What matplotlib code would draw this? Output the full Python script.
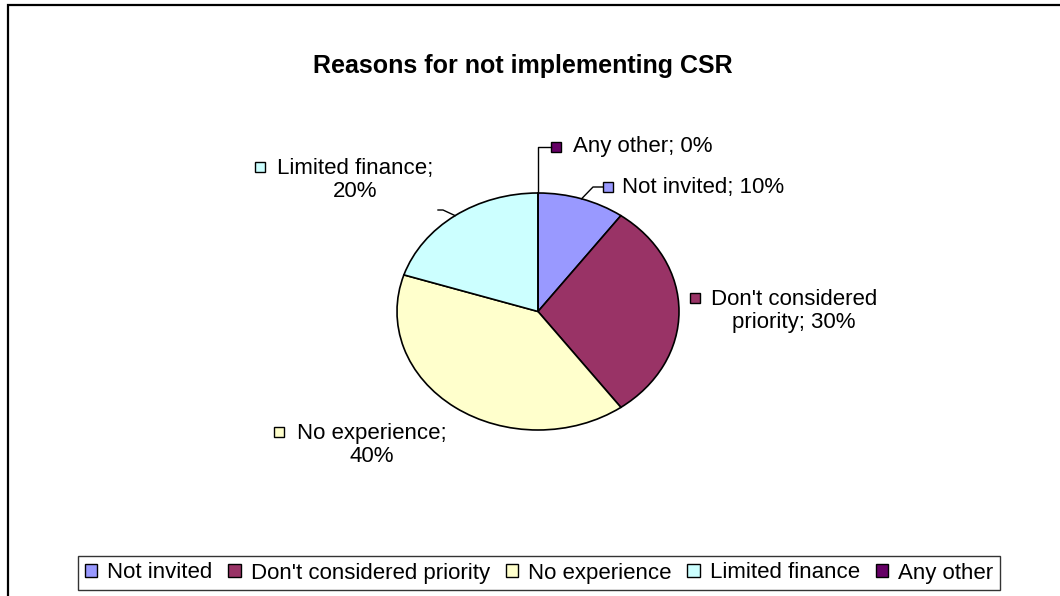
import numpy as np
import matplotlib
matplotlib.use("Agg")
import matplotlib.pyplot as plt
from matplotlib.patches import Rectangle, Patch

plt.rcParams['font.family'] = ['Liberation Sans', 'DejaVu Sans']

# data
categories = ["Not invited", "Don't considered priority", "No experience",
              "Limited finance", "Any other"]
values = [10, 30, 40, 20, 0]
colors = ["#9999FF", "#993366", "#FFFFCC", "#CCFFFF", "#660066"]
title = "Reasons for not implementing CSR"

W, H = 1060, 596
fig = plt.figure(figsize=(W / 100, H / 100), dpi=100)


def fx(x):
    return x / W


def fy(y):
    return 1 - y / H


# outer chart frame (right and bottom edges fall outside the image)
fig.patches.append(Rectangle((fx(8), fy(H + 10)), fx(W + 20) - fx(8), fy(5) - fy(H + 10),
                             transform=fig.transFigure, fill=False,
                             edgecolor="black", linewidth=1.6))

fig.text(fx(523), fy(66), title, ha="center", va="center",
         fontsize=18, fontweight="bold")

# pie, slightly elliptical like the original
left, right, top, bottom = 397, 679, 193, 430
ax = fig.add_axes([fx(left), fy(bottom), fx(right) - fx(left), fy(top) - fy(bottom)])
wedges, _ = ax.pie(values, colors=colors, startangle=90, counterclock=False,
                   wedgeprops=dict(edgecolor="black", linewidth=1.2))
ax.set_aspect("auto")
ax.set_xlim(-1, 1)
ax.set_ylim(-1, 1)

rx = (right - left) / 2
ry = (bottom - top) / 2
cx = (left + right) / 2
cy = (top + bottom) / 2


def edge_point(i):
    w = wedges[i]
    ang = np.deg2rad((w.theta1 + w.theta2) / 2)
    return cx + rx * np.cos(ang), cy - ry * np.sin(ang)


def line_px(pts):
    xs = [fx(p[0]) for p in pts]
    ys = [fy(p[1]) for p in pts]
    fig.add_artist(plt.Line2D(xs, ys, transform=fig.transFigure,
                              color="black", linewidth=1.0))


def key(x, y, c, s=10):
    fig.patches.append(Rectangle((fx(x - s / 2), fy(y + s / 2)), s / W, s / H,
                                 transform=fig.transFigure, facecolor=c,
                                 edgecolor="black", linewidth=1.0))


fs = 16

# Any other; 0%
p = edge_point(4)
line_px([p, (p[0], 147), (551, 147)])
key(556, 147, colors[4])
fig.text(fx(573), fy(147), "Any other; 0%", ha="left", va="center", fontsize=fs)

# Not invited; 10%
p = edge_point(0)
line_px([p, (593, 187), (603, 187)])
key(608, 187, colors[0])
fig.text(fx(622), fy(187), "Not invited; 10%", ha="left", va="center", fontsize=fs)

# Don't considered priority; 30%
key(695, 298, colors[1])
fig.text(fx(794), fy(311), "Don't considered\npriority; 30%", ha="center",
         va="center", multialignment="center", fontsize=fs, linespacing=1.15)

# Limited finance; 20%
p = edge_point(3)
line_px([p, (443, 210), (438, 210)])
key(260, 167, colors[3])
fig.text(fx(355), fy(180), "Limited finance;\n20%", ha="center",
         va="center", multialignment="center", fontsize=fs, linespacing=1.15)

# No experience; 40%
key(279, 432, colors[2])
fig.text(fx(372), fy(445), "No experience;\n40%", ha="center",
         va="center", multialignment="center", fontsize=fs, linespacing=1.15)

# legend
handles = [Patch(facecolor=c, edgecolor="black", linewidth=1.0) for c in colors]
leg = fig.legend(handles, categories, loc="center", ncol=5,
                 bbox_to_anchor=(fx(539), fy(573)), fontsize=16,
                 frameon=True, fancybox=False, edgecolor="black",
                 handlelength=0.55, handleheight=0.55, handletextpad=0.45,
                 columnspacing=0.72, borderpad=0.3, borderaxespad=0)
leg.get_frame().set_linewidth(1.0)

fig.savefig("out.png", dpi=100)
